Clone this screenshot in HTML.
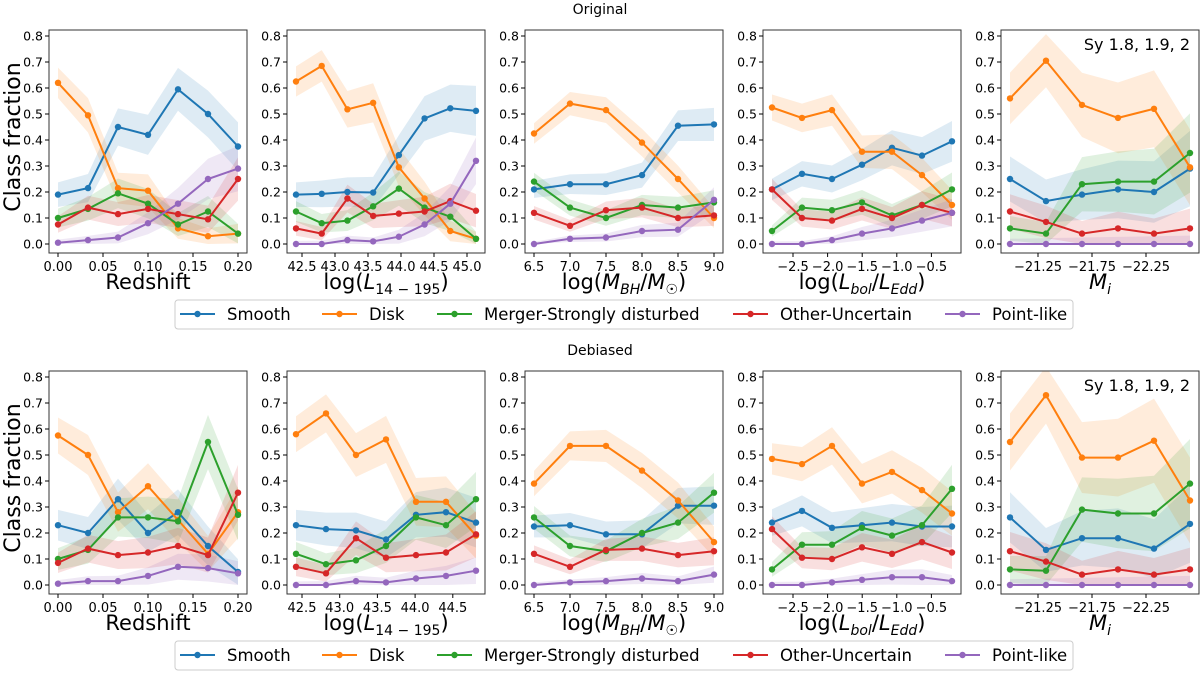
<!DOCTYPE html>
<html><head><meta charset="utf-8"><style>
body{margin:0;background:#fff;width:1200px;height:672px;overflow:hidden}
svg{font-family:"DejaVu Sans","Liberation Sans",sans-serif}
</style></head><body>
<div id="wrap"></div>
<script>
var COL=["#1f77b4","#ff7f0e","#2ca02c","#d62728","#9467bd"];
var lefts=[49,287,525,763,1001];
var xl=["Redshift",'log(<tspan font-style="italic">L</tspan><tspan font-size="14" dy="5">14 − 195</tspan><tspan dy="-5">)</tspan>',
'log(<tspan font-style="italic">M</tspan><tspan font-size="14" font-style="italic" dy="5">BH</tspan><tspan dy="-5">/</tspan><tspan font-style="italic">M</tspan><tspan font-size="14" dy="5">☉</tspan><tspan dy="-5">)</tspan>',
'log(<tspan font-style="italic">L</tspan><tspan font-size="14" font-style="italic" dy="5">bol</tspan><tspan dy="-5">/</tspan><tspan font-style="italic">L</tspan><tspan font-size="14" font-style="italic" dy="5">Edd</tspan><tspan dy="-5">)</tspan>',
'<tspan font-style="italic">M</tspan><tspan font-size="14" font-style="italic" dy="5">i</tspan>'];
function tk(a,s,labels){return labels.map(function(l,i){return [l,a+s*i];});}
var ticksTop=[tk(9,45,["0.00","0.05","0.10","0.15","0.20"]),tk(15,33,["42.5","43.0","43.5","44.0","44.5","45.0"]),tk(9,36,["6.5","7.0","7.5","8.0","8.5","9.0"]),tk(30,34.6,["−2.5","−2.0","−1.5","−1.0","−0.5"]),tk(37,54,["−21.25","−21.75","−22.25"])];
var ticksBot=[ticksTop[0],tk(15,37.7,["42.5","43.0","43.5","44.0","44.5"]),ticksTop[2],ticksTop[3],ticksTop[4]];
var KK=[[.12,.12,.08,.1,.2],[.14,.14,.1,.12,.22]];
var dataTop=[
[[.19,.215,.45,.42,.595,.50,.375],[.62,.495,.215,.205,.06,.03,.04],[.10,.135,.195,.155,.075,.125,.04],[.075,.14,.115,.135,.115,.095,.25],[.005,.015,.025,.08,.155,.25,.29]],
[[.19,.193,.20,.198,.342,.483,.522,.512],[.625,.685,.518,.543,.295,.175,.05,.02],[.125,.08,.09,.145,.213,.14,.105,.02],[.06,.04,.175,.108,.117,.125,.165,.128],[0,0,.015,.01,.028,.075,.155,.32]],
[[.21,.23,.23,.265,.455,.46],[.425,.54,.515,.39,.25,.10],[.24,.14,.10,.15,.14,.16],[.12,.07,.13,.14,.10,.11],[0,.02,.025,.05,.055,.17]],
[[.21,.27,.25,.305,.37,.34,.395],[.525,.485,.515,.355,.355,.265,.15],[.05,.14,.13,.16,.11,.15,.21],[.21,.10,.09,.135,.10,.15,.12],[0,0,.015,.04,.06,.09,.12]],
[[.25,.165,.19,.21,.20,.29],[.56,.705,.535,.485,.52,.295],[.06,.04,.23,.24,.24,.35],[.125,.085,.04,.06,.04,.06],[0,0,0,0,0,0]]];
var dataBot=[
[[.23,.20,.33,.20,.28,.15,.05],[.575,.50,.28,.38,.25,.12,.28],[.10,.135,.26,.26,.245,.55,.27],[.085,.14,.115,.125,.15,.115,.355],[.005,.015,.015,.035,.07,.065,.045]],
[[.23,.215,.21,.175,.27,.28,.24],[.58,.66,.50,.56,.32,.32,.19],[.12,.08,.095,.15,.26,.23,.33],[.07,.045,.18,.105,.115,.125,.195],[0,0,.015,.01,.025,.035,.055]],
[[.225,.23,.195,.195,.305,.305],[.39,.535,.535,.44,.325,.165],[.26,.15,.13,.20,.24,.355],[.12,.07,.135,.14,.115,.13],[0,.01,.015,.025,.015,.04]],
[[.24,.285,.22,.23,.24,.225,.225],[.485,.465,.535,.39,.435,.365,.275],[.06,.155,.155,.22,.19,.23,.37],[.215,.105,.10,.145,.12,.165,.125],[0,0,.01,.02,.03,.03,.015]],
[[.26,.135,.18,.18,.14,.235],[.55,.73,.49,.49,.555,.325],[.06,.055,.29,.275,.275,.39],[.13,.09,.04,.06,.04,.06],[0,0,0,0,0,0]]];
var h="";
function row(oy,data,ticks,ki,title){
 h+='<text x="600" y="'+(oy-16)+'" font-size="14" text-anchor="middle">'+title+'</text>';
 function Y(v){return oy+214-v*260;}
 for(var p=0;p<5;p++){
  var L=lefts[p];
  h+='<svg x="'+L+'" y="'+oy+'" width="198" height="223" viewBox="'+L+' '+oy+' 198 223" overflow="hidden">';
  data[p].forEach(function(s,si){
   var n=s.length;function X(i){return L+9+180*i/(n-1);}
   var e=s.map(function(v,i){return ki[p]*Math.sqrt(Math.max(v,.01)*(1-v))*(1+0.6*i/(n-1));});
   var up=s.map(function(v,i){return X(i)+","+Y(v+e[i]);}).join(" ");
   var dn=s.map(function(v,i){return X(i)+","+Y(Math.max(0,v-e[i]));}).reverse().join(" ");
   h+='<polygon points="'+up+' '+dn+'" fill="'+COL[si]+'" fill-opacity="0.15"/>';
  });
  data[p].forEach(function(s,si){
   var n=s.length;function X(i){return L+9+180*i/(n-1);}
   h+='<polyline points="'+s.map(function(v,i){return X(i)+","+Y(v);}).join(" ")+'" fill="none" stroke="'+COL[si]+'" stroke-width="2"/>';
   s.forEach(function(v,i){h+='<circle cx="'+X(i)+'" cy="'+Y(v)+'" r="3.2" fill="'+COL[si]+'"/>';});
  });
  h+='</svg>';
  h+='<rect x="'+L+'" y="'+oy+'" width="198" height="223" fill="none" stroke="#333" stroke-width="1"/>';
  for(var t=0;t<=8;t++){var y=Y(t/10);h+='<line x1="'+(L-4)+'" x2="'+L+'" y1="'+y+'" y2="'+y+'" stroke="#000"/><text x="'+(L-6)+'" y="'+(y+4.5)+'" font-size="12.5" text-anchor="end">'+(t/10).toFixed(1)+'</text>';}
  ticks[p].forEach(function(a){var x=L+a[1];h+='<line x1="'+x+'" x2="'+x+'" y1="'+(oy+223)+'" y2="'+(oy+227)+'" stroke="#000"/><text x="'+x+'" y="'+(oy+241)+'" font-size="13" text-anchor="middle">'+a[0]+'</text>';});
  h+='<text x="'+(L+99)+'" y="'+(oy+259)+'" font-size="21" text-anchor="middle">'+xl[p]+'</text>';
 }
 h+='<text transform="translate(20,'+(oy+107)+') rotate(-90)" font-size="22" text-anchor="middle">Class fraction</text>';
 h+='<text x="1190" y="'+(oy+20)+'" font-size="16" text-anchor="end">Sy 1.8, 1.9, 2</text>';
 var ly=oy+270;
 h+='<rect x="175" y="'+ly+'" width="898" height="29" rx="3" fill="#fff" stroke="#ccc"/>';
 var le=[[180,"Smooth"],[322,"Disk"],[437,"Merger-Strongly disturbed"],[733,"Other-Uncertain"],[945,"Point-like"]];
 le.forEach(function(a,i){var x=a[0];h+='<line x1="'+x+'" x2="'+(x+35)+'" y1="'+(ly+14)+'" y2="'+(ly+14)+'" stroke="'+COL[i]+'" stroke-width="2"/><circle cx="'+(x+17.5)+'" cy="'+(ly+14)+'" r="3.2" fill="'+COL[i]+'"/><text x="'+(x+47)+'" y="'+(ly+20)+'" font-size="16.5">'+a[1]+'</text>';});
}
row(30,dataTop,ticksTop,KK[0],"Original");
row(371,dataBot,ticksBot,KK[1],"Debiased");
document.getElementById("wrap").innerHTML='<svg width="1200" height="672" xmlns="http://www.w3.org/2000/svg">'+h+'</svg>';
</script>
</body></html>
